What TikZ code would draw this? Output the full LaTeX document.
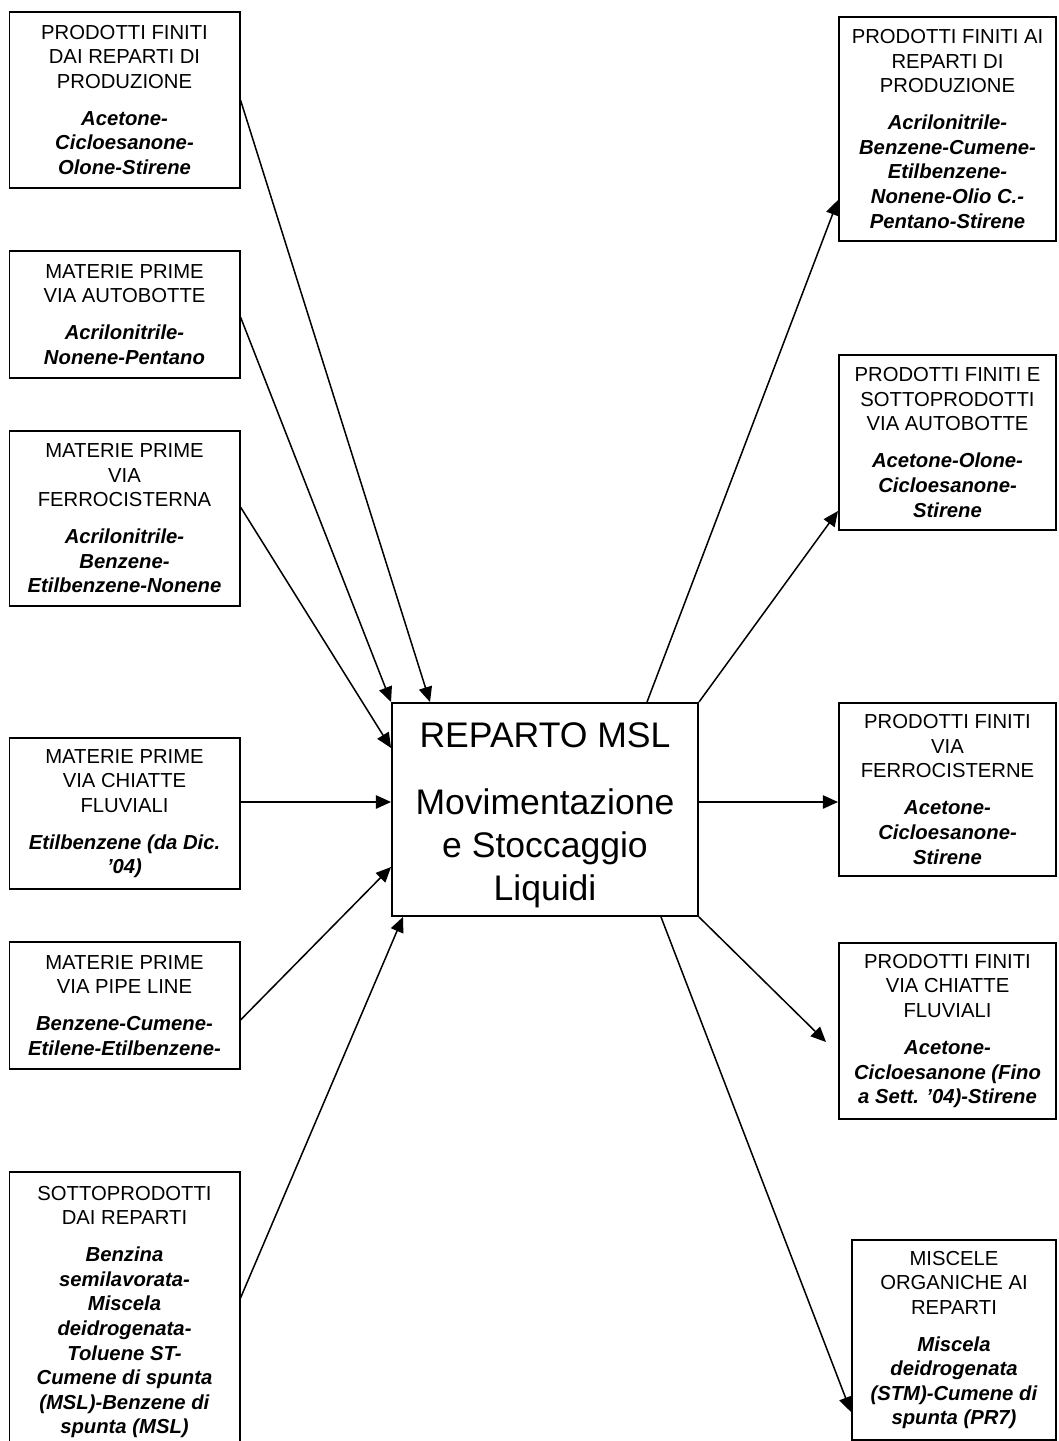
\documentclass[tikz,border=0pt]{standalone}
\usepackage{fontspec}
\setmainfont{Liberation Sans}
\usetikzlibrary{arrows.meta}

\tikzset{
  box/.style={draw, line width=1.1pt, inner sep=0pt, align=center,
    font=\fontsize{11.4}{13.8}\selectfont},
  leftbox/.style={box, minimum width=129.4pt},
  rightbox/.style={box, minimum width=122.1pt},
  mainbox/.style={draw, line width=1.1pt, inner sep=0pt, align=center,
    font=\fontsize{20}{24.2}\selectfont, minimum width=172.1pt, minimum height=119.8pt},
  flow/.style={line width=0.85pt, -{Triangle[length=8.5pt,width=7.5pt]}}
}
\newcommand{\chem}[1]{\textbf{\textit{#1}}}

\begin{document}
\begin{tikzpicture}[x=0.5625pt, y=-0.5625pt]
  \useasboundingbox (0,0) rectangle (1058,1441);
  \fill[white] (0,0) rectangle (1058,1441);
  \clip (0,0) rectangle (1058,1441);

  % central department
  \node[mainbox] (C) at (545,809.5)
    {\rule{0pt}{20pt}REPARTO MSL\\[13.5pt]Movimentazione\\e Stoccaggio\\Liquidi};

  % incoming flows (left column)
  \node[leftbox, minimum height=99pt] (L1) at (124.5,100)
    {PRODOTTI FINITI\\DAI REPARTI DI\\PRODUZIONE\\[7pt]
     \chem{Acetone-}\\\chem{Cicloesanone-}\\\chem{Olone-Stirene}};
  \node[leftbox, minimum height=71.4pt] (L2) at (124.5,314.5)
    {MATERIE PRIME\\VIA AUTOBOTTE\\[7pt]
     \chem{Acrilonitrile-}\\\chem{Nonene-Pentano}};
  \node[leftbox, minimum height=98.4pt] (L3) at (124.5,518.5)
    {MATERIE PRIME\\VIA\\FERROCISTERNA\\[7pt]
     \chem{Acrilonitrile-}\\\chem{Benzene-}\\\chem{Etilbenzene-Nonene}};
  \node[leftbox, minimum height=84.9pt] (L4) at (124.5,813.5)
    {MATERIE PRIME\\VIA CHIATTE\\FLUVIALI\\[7pt]
     \chem{Etilbenzene (da Dic.}\\\chem{’04)}};
  \node[leftbox, minimum height=71.4pt] (L5) at (124.5,1005.5)
    {MATERIE PRIME\\VIA PIPE LINE\\[7pt]
     \chem{Benzene-Cumene-}\\\chem{Etilene-Etilbenzene-}};
  \node[leftbox, minimum height=157.5pt] (L6) at (124.5,1312)
    {SOTTOPRODOTTI\\DAI REPARTI\\[7pt]
     \chem{Benzina}\\\chem{semilavorata-}\\\chem{Miscela}\\\chem{deidrogenata-}\\
     \chem{Toluene ST-}\\\chem{Cumene di spunta}\\\chem{(MSL)-Benzene di}\\\chem{spunta (MSL)}};

  % outgoing flows (right column)
  \node[rightbox, minimum height=126pt] (R1) at (947.5,129)
    {PRODOTTI FINITI AI\\REPARTI DI\\PRODUZIONE\\[7pt]
     \chem{Acrilonitrile-}\\\chem{Benzene-Cumene-}\\\chem{Etilbenzene-}\\
     \chem{Nonene-Olio C.-}\\\chem{Pentano-Stirene}};
  \node[rightbox, minimum height=98.4pt] (R2) at (947.5,442.5)
    {PRODOTTI FINITI E\\SOTTOPRODOTTI\\VIA AUTOBOTTE\\[7pt]
     \chem{Acetone-Olone-}\\\chem{Cicloesanone-}\\\chem{Stirene}};
  \node[rightbox, minimum height=97.3pt] (R3) at (947.5,789.5)
    {PRODOTTI FINITI\\VIA\\FERROCISTERNE\\[7pt]
     \chem{Acetone-}\\\chem{Cicloesanone-}\\\chem{Stirene}};
  \node[rightbox, minimum height=99pt] (R4) at (947.5,1031)
    {PRODOTTI FINITI\\VIA CHIATTE\\FLUVIALI\\[7pt]
     \chem{Acetone-}\\\chem{Cicloesanone (Fino}\\\chem{a Sett. ’04)-Stirene}};
  \node[box, minimum width=114.75pt, minimum height=112.5pt] (R5) at (954,1340)
    {MISCELE\\ORGANICHE AI\\REPARTI\\[7pt]
     \chem{Miscela}\\\chem{deidrogenata}\\\chem{(STM)-Cumene di}\\\chem{spunta (PR7)}};

  \coordinate (b4tip) at (826,1042);

  % arrows into the department
  \draw[flow] (L1.east) -- (C.north -| 430,0);
  \draw[flow] (L2.east |- 0,317) -- (C.north west);
  \draw[flow] (L3.east |- 0,507) -- (C.west |- 0,748);
  \draw[flow] (L4.east |- 0,802) -- (C.west |- 0,802);
  \draw[flow] (L5.east |- 0,1020) -- (C.west |- 0,867);
  \draw[flow] (L6.east |- 0,1298) -- (C.south -| 403,0);

  % arrows out of the department
  \draw[flow] (C.north -| 647,0) -- (R1.west |- 0,200);
  \draw[flow] (C.north east) -- (R2.west |- 0,511);
  \draw[flow] (C.east |- 0,802) -- (R3.west |- 0,802);
  \draw[flow] (C.south east) -- (b4tip);
  \draw[flow] (C.south -| 661,0) -- (R5.west |- 0,1412);
\end{tikzpicture}
\end{document}
